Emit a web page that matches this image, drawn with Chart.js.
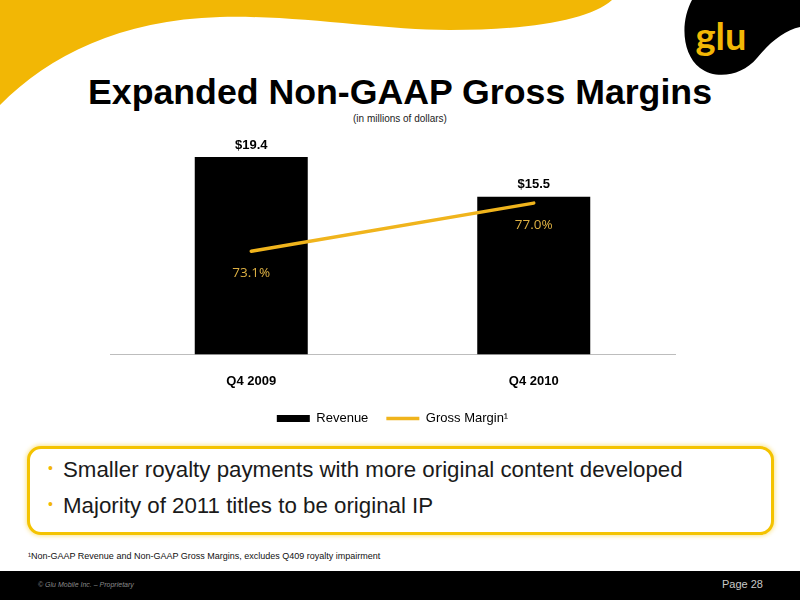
<!DOCTYPE html>
<html>
<head>
<meta charset="utf-8">
<script src="https://cdn.jsdelivr.net/npm/chart.js@4.4.1/dist/chart.umd.min.js"></script>
<style>
  html, body { margin: 0; padding: 0; background: #fff; }
  body { width: 800px; height: 600px; position: relative; overflow: hidden; font-family: "Liberation Sans", Arial, sans-serif; }
  #deco { position: absolute; left: 0; top: 0; }
  #title { position: absolute; left: 0; width: 800px; top: 72px; text-align: center; font-weight: bold; font-size: 35.7px; color: #000; }
  #sub { position: absolute; left: 0; width: 800px; top: 113px; text-align: center; font-size: 10px; color: #222; }
  #wrap { position: absolute; left: 0; top: 120px; width: 800px; height: 315px; }
  #box { position: absolute; left: 27px; top: 446px; width: 741px; height: 83px; border: 3px solid #f4c300; border-radius: 14px; box-shadow: 0 0 4px 1px rgba(244,195,0,0.45); background: #fff; }
  .bul { position: absolute; left: 33px; font-size: 22.3px; color: #1a1a1a; white-space: nowrap; }
  .bul span { position: absolute; left: -15px; top: 3px; color: #f2b705; font-size: 14px; }
  #foot { position: absolute; left: 28px; top: 551px; font-size: 9px; color: #111; }
  #bar { position: absolute; left: 0; top: 571px; width: 800px; height: 29px; background: #000; }
  #copy { position: absolute; left: 38px; top: 10px; font-size: 7px; font-style: italic; color: #8a8a8a; }
  #page { position: absolute; left: 722px; top: 7px; font-size: 11px; color: #c8c8c8; }
</style>
</head>
<body>
<svg id="deco" width="800" height="120">
  <path d="M0,0 L612,0 C590,20 530,30 450,30 C380,30 300,15 220,17 C120,20 50,55 0,105 Z" fill="#f2b705"/>
  <path d="M692,0 L800,0 L800,27 C785,30 770,42 757,58 C742,76 716,80 700,68 C682,54 680,22 692,0 Z" fill="#000"/>
  <text x="721" y="50" text-anchor="middle" font-family="Lato, sans-serif" font-weight="bold" font-size="38" fill="#f2b705">glu</text>
</svg>
<div id="title">Expanded Non-GAAP Gross Margins</div>
<div id="sub">(in millions of dollars)</div>
<div id="wrap"><canvas id="myChart" width="800" height="315"></canvas></div>
<div id="box">
  <div class="bul" style="top:8px"><span>•</span>Smaller royalty payments with more original content developed</div>
  <div class="bul" style="top:44px"><span>•</span>Majority of 2011 titles to be original IP</div>
</div>
<div id="foot">¹Non-GAAP Revenue and Non-GAAP Gross Margins, excludes Q409 royalty impairment</div>
<div id="bar">
  <div id="copy">© Glu Mobile Inc. – Proprietary</div>
  <div id="page">Page 28</div>
</div>
<script>
var categories = ['Q4 2009', 'Q4 2010'];
var revenue = [19.4, 15.5];
var grossMargin = [73.1, 77.0];

var valueLabels = {
    id: 'valueLabels',
    afterDatasetsDraw: function (chart) {
        var c = chart.ctx;
        c.save();
        c.textAlign = 'center';
        c.textBaseline = 'middle';
        chart.getDatasetMeta(0).data.forEach(function (bar, i) {
            c.font = 'bold 13px "Liberation Sans", Arial, sans-serif';
            c.fillStyle = '#000';
            c.fillText('$' + revenue[i].toFixed(1), bar.x, bar.y - 12);
        });
        chart.getDatasetMeta(1).data.forEach(function (pt, i) {
            c.font = '13.5px "Open Sans", sans-serif';
            c.fillStyle = '#ddb043';
            c.fillText(grossMargin[i].toFixed(1) + '%', pt.x, pt.y + 22);
        });
        c.restore();
    }
};

var ctx = document.getElementById('myChart');
var myChart = new Chart(ctx, {
    type: 'bar',
    data: {
        labels: categories,
        datasets: [{
            label: 'Revenue',
            data: revenue,
            backgroundColor: '#000',
            borderWidth: 0,
            pointStyle: 'rect',
            barPercentage: 0.4,
            categoryPercentage: 1,
            yAxisID: 'y',
            order: 2
        }, {
            type: 'line',
            label: 'Gross Margin¹',
            data: grossMargin,
            borderColor: '#f0b41c',
            backgroundColor: '#f0b41c',
            borderWidth: 3.5,
            borderCapStyle: 'round',
            pointRadius: 0,
            pointStyle: 'line',
            yAxisID: 'y2',
            order: 1
        }]
    },
    options: {
        responsive: false,
        animation: false,
        layout: { padding: { left: 110, right: 125, top: 20, bottom: 0 } },
        scales: {
            x: {
                grid: { display: false },
                border: { display: true, color: '#bdbdbd', width: 1 },
                ticks: { padding: 11, color: '#000', font: { family: '"Liberation Sans", Arial', size: 13, weight: 'bold' } },
                afterFit: function (scale) { scale.height -= 6; }
            },
            y: { display: false, min: 0, max: 21.07 },
            y2: { display: false, min: 64.73, max: 82.12 }
        },
        plugins: {
            legend: {
                position: 'bottom',
                labels: {
                    usePointStyle: true,
                    pointStyleWidth: 33,
                    boxHeight: 7,
                    padding: 18,
                    color: '#000',
                    font: { family: '"Liberation Sans", Arial', size: 13 },
                    sort: function (a, b) { return a.datasetIndex - b.datasetIndex; }
                }
            },
            tooltip: { enabled: false }
        }
    },
    plugins: [valueLabels]
});
</script>
</body>
</html>
